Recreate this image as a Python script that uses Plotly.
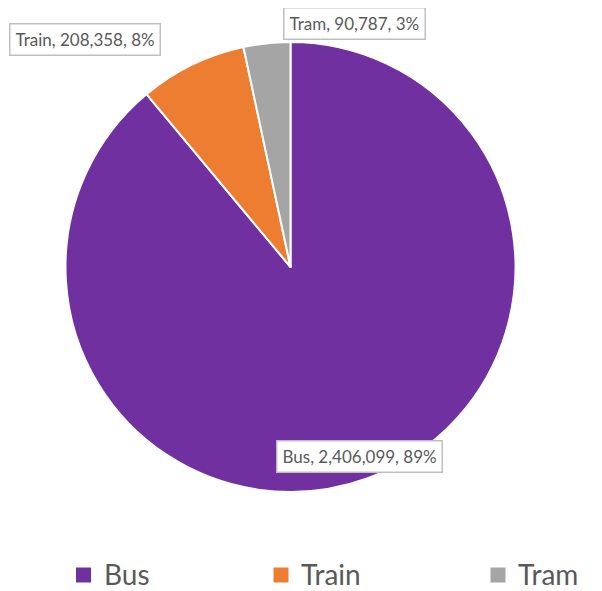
import plotly.graph_objects as go

W, H = 602, 591
OFF = 8  # page body margin: the figure is drawn 8px in from the window corner

modes = ["Bus", "Train", "Tram"]
trips = [2406099, 208358, 90787]
pcts = ["89%", "8%", "3%"]
colors = ["#7030A0", "#ED7D31", "#A5A5A5"]
# label box centres in window pixels (Excel-style manual placement)
label_px = [(359.5, 456.5), (85, 39), (354, 23.5)]
# legend swatch centres (x, window px) and legend row centre (window px)
legend_sw_x = [83.5, 281, 498]
legend_y = 575
TXT = "#595959"
FONT = "Lato"


def px2x(px):
    return (px - OFF) / W


def px2y(py):
    return 1 - (py - OFF) / H


fig = go.Figure(go.Pie(
    labels=modes, values=trips, sort=False, direction="clockwise", rotation=0,
    marker=dict(colors=colors, line=dict(color="white", width=2)),
    textinfo="none", hoverinfo="label+value+percent",
    domain=dict(x=[px2x(65), px2x(516)], y=[px2y(492), px2y(42)]),
    showlegend=False,
))

# data labels
for m, v, p, (px, py) in zip(modes, trips, pcts, label_px):
    fig.add_annotation(
        x=px2x(px), y=px2y(py), xref="paper", yref="paper",
        xanchor="center", yanchor="middle",
        text=f"{m}, {v:,}, {p}", showarrow=False, height=20,
        font=dict(size=17, color=TXT, family=FONT),
        bgcolor="white", bordercolor="#BFBFBF", borderwidth=1.5, borderpad=5,
    )

# legend (swatch + label per category)
half = 7.5
for m, c, sx in zip(modes, colors, legend_sw_x):
    fig.add_shape(type="rect", xref="paper", yref="paper",
                  x0=px2x(sx - half), x1=px2x(sx + half),
                  y0=px2y(legend_y + half), y1=px2y(legend_y - half),
                  fillcolor=c, line=dict(width=0))
    fig.add_annotation(x=px2x(sx + 18), y=px2y(legend_y - 1), xref="paper", yref="paper",
                       xanchor="left", yanchor="middle", text=m, showarrow=False,
                       font=dict(size=28, color=TXT, family=FONT))

fig.update_layout(
    width=W, height=H, margin=dict(l=0, r=0, t=0, b=0),
    paper_bgcolor="white", plot_bgcolor="white",
    font=dict(family=FONT, color=TXT),
    showlegend=False,
)
fig.write_html("out.html")
